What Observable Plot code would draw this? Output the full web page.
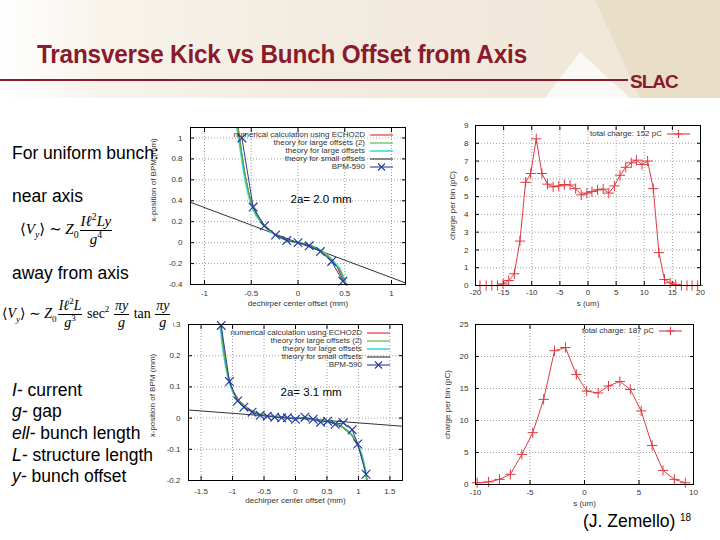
<!DOCTYPE html>
<html><head><meta charset="utf-8">
<script src="https://cdn.jsdelivr.net/npm/d3@7"></script>
<script src="https://cdn.jsdelivr.net/npm/@observablehq/plot@0.6"></script>
<style>
html,body{margin:0;padding:0;background:#fff;}
#slide{position:relative;width:720px;height:540px;overflow:hidden;font-family:"Liberation Sans",Arial,sans-serif;color:#000;}
.abs{position:absolute;white-space:nowrap;}
#banner{position:absolute;left:0;top:0;width:720px;height:98px;background:linear-gradient(90deg,#ffffff 0%,#f8f4ec 14%,#f2ebdf 45%,#efe6d6 100%);}
#dark{position:absolute;left:0;top:0;width:720px;height:98px;background:#e6dac2;clip-path:polygon(595px 0,720px 0,720px 98px,640px 98px);opacity:0.7;}
#light{position:absolute;left:0;top:0;width:720px;height:98px;background:#fbf9f5;clip-path:polygon(545px 98px,580px 52px,630px 98px);}
#title{left:37px;top:39px;font-weight:bold;font-size:26px;color:#8a1a2c;transform:scaleX(0.935);transform-origin:0 0;letter-spacing:-0.2px;}
#rule{left:0;top:79px;width:628px;height:2px;background:#8a1a2c;}
#slac{left:630px;top:71px;font-weight:900;font-size:19px;color:#8a1a2c;letter-spacing:-1px;}
.txt{font-size:17.5px;line-height:20px;}
.math{font-family:"Liberation Serif","DejaVu Serif",serif;line-height:1;}
.math i{font-style:italic;}
.frac{display:inline-flex;flex-direction:column;vertical-align:middle;text-align:center;margin:0 1px;}
.frac>span:first-child{border-bottom:1px solid #000;padding:0 1px 1px 1px;}
.frac>span:last-child{padding-top:1px;}
sub,sup{font-size:65%;line-height:0;}
.leg{position:absolute;font-size:8px;line-height:10px;color:#333;text-align:right;white-space:nowrap;}
.chart{position:absolute;}
</style></head>
<body><div id="slide">
<div id="banner"></div><div id="dark"></div><div id="light"></div>
<div class="abs" id="title">Transverse Kick vs Bunch Offset from Axis</div>
<div class="abs" id="rule"></div>
<div class="abs" id="slac">SLAC</div>
<div id="charts"></div>
<div class="abs txt" style="left:12px;top:143px;">For uniform bunch:</div>
<div class="abs txt" style="left:12px;top:186px;">near axis</div>
<div class="abs math" style="left:20px;top:214px;font-size:15px;">⟨<i>V</i><sub><i>y</i></sub>⟩ ∼ <i>Z</i><sub>0</sub><span class="frac"><span><i>Iℓ</i><sup>2</sup><i>Ly</i></span><span><i>g</i><sup>4</sup></span></span></div>
<div class="abs txt" style="left:12px;top:263px;">away from axis</div>
<div class="abs math" style="left:0px;top:297px;font-size:14px;background:#fff;padding:2px;">⟨<i>V</i><sub><i>y</i></sub>⟩ ∼ <i>Z</i><sub>0</sub><span class="frac"><span><i>Iℓ</i><sup>2</sup><i>L</i></span><span><i>g</i><sup>3</sup></span></span> sec<sup>2</sup> <span class="frac"><span><i>πy</i></span><span><i>g</i></span></span> tan <span class="frac"><span><i>πy</i></span><span><i>g</i></span></span></div>
<div class="abs txt" style="left:12px;top:380px;"><i>I-</i> current</div>
<div class="abs txt" style="left:12px;top:401px;"><i>g-</i> gap</div>
<div class="abs txt" style="left:12px;top:423px;"><i>ell-</i> bunch length</div>
<div class="abs txt" style="left:12px;top:445px;"><i>L-</i> structure length</div>
<div class="abs txt" style="left:12px;top:466px;"><i>y-</i> bunch offset</div>
<div class="abs txt" style="left:583px;top:511px;">(J. Zemello)</div>
<div class="abs" style="left:680px;top:512px;font-size:10px;">18</div>
</div>
<script>
// ---------- Chart A: 2a = 2.0 mm ----------
const aXTicks = [-1, -0.5, 0, 0.5, 1];
const aYTicks = [-0.4, -0.2, 0, 0.2, 0.4, 0.6, 0.8, 1];
const aBpmX = [-0.60, -0.48, -0.36, -0.24, -0.12, 0.00, 0.12, 0.24, 0.36, 0.48];
const aBpmY = [1.00, 0.34, 0.16, 0.073, 0.02, 0.00, -0.03, -0.085, -0.18, -0.37];
const aNumX = [-0.64, -0.60, -0.56, -0.52, -0.48, -0.42, -0.36, -0.24, -0.12, 0, 0.12, 0.24, 0.36, 0.42, 0.48, 0.51];
const aNumY = [1.10, 0.84, 0.62, 0.45, 0.35, 0.235, 0.165, 0.075, 0.022, 0, -0.022, -0.075, -0.165, -0.235, -0.35, -0.40];
const aLarge2X = [-0.645, -0.62, -0.60, -0.58, -0.56, -0.54, -0.52, -0.50, -0.47, -0.44, -0.40, -0.36, -0.30, -0.24, -0.18, -0.12, -0.06, 0, 0.06, 0.12, 0.18, 0.24, 0.30, 0.36, 0.40, 0.44, 0.47, 0.50, 0.515];
const aLarge2Y = [1.10, 0.96, 0.84, 0.72, 0.62, 0.53, 0.45, 0.385, 0.31, 0.26, 0.21, 0.165, 0.115, 0.075, 0.045, 0.022, 0.009, 0, -0.009, -0.022, -0.045, -0.075, -0.115, -0.165, -0.21, -0.25, -0.31, -0.38, -0.40];
const aLargeX = [-0.655, -0.63, -0.61, -0.59, -0.57, -0.55, -0.53, -0.51, -0.48, -0.45, -0.41, -0.37, -0.31, -0.25, -0.19, -0.12, -0.06, 0, 0.06, 0.12, 0.19, 0.25, 0.31, 0.37, 0.41, 0.45, 0.48, 0.51, 0.525];
const aLargeY = [1.10, 0.96, 0.84, 0.72, 0.62, 0.53, 0.45, 0.385, 0.31, 0.26, 0.21, 0.165, 0.115, 0.075, 0.045, 0.022, 0.009, 0, -0.009, -0.022, -0.045, -0.075, -0.115, -0.165, -0.21, -0.25, -0.31, -0.38, -0.40];
const aSmallX = [-1.15, 1.15];
const aSmallY = [0.385, -0.385];

// ---------- Chart B: 2a = 3.1 mm ----------
const bXTicks = [-1.5, -1, -0.5, 0, 0.5, 1, 1.5];
const bYTicks = [-0.2, -0.1, 0, 0.1, 0.2, 0.3];
const bBpmX = [-1.18, -1.05, -0.92, -0.82, -0.69, -0.56, -0.45, -0.33, -0.22, -0.13, 0.00, 0.15, 0.28, 0.40, 0.51, 0.63, 0.76, 0.90, 0.99, 1.12];
const bBpmY = [0.297, 0.117, 0.055, 0.035, 0.019, 0.009, 0.006, 0.003, 0.001, 0.001, -0.004, 0.003, -0.004, -0.013, -0.010, -0.020, -0.015, -0.037, -0.083, -0.180];
const bLarge2X = [-1.19, -1.16, -1.13, -1.10, -1.07, -1.04, -1.00, -0.95, -0.90, -0.82, -0.74, -0.66, -0.56, -0.46, -0.34, -0.20, 0, 0.20, 0.34, 0.46, 0.56, 0.66, 0.74, 0.82, 0.90, 0.96, 1.01, 1.05, 1.08, 1.11, 1.135];
const bLarge2Y = [0.30, 0.245, 0.20, 0.165, 0.135, 0.112, 0.09, 0.07, 0.056, 0.04, 0.028, 0.019, 0.012, 0.008, 0.005, 0.002, 0, -0.002, -0.005, -0.008, -0.012, -0.019, -0.028, -0.04, -0.056, -0.075, -0.097, -0.12, -0.145, -0.175, -0.20];
const bLargeX = [-1.20, -1.17, -1.14, -1.11, -1.08, -1.05, -1.01, -0.96, -0.91, -0.83, -0.75, -0.67, -0.57, -0.47, -0.35, -0.21, 0, 0.21, 0.35, 0.47, 0.57, 0.67, 0.75, 0.83, 0.91, 0.97, 1.02, 1.06, 1.09, 1.12, 1.145];
const bLargeY = bLarge2Y;
const bNumX = [-1.19, -1.13, -1.07, -1.00, -0.90, -0.74, -0.56, -0.34, 0, 0.34, 0.56, 0.74, 0.90, 1.01, 1.08, 1.135];
const bNumY = [0.30, 0.20, 0.135, 0.09, 0.056, 0.028, 0.012, 0.005, 0, -0.005, -0.012, -0.028, -0.056, -0.097, -0.145, -0.20];
const bSmallX = [-1.7, 1.7];
const bSmallY = [0.026, -0.026];

// ---------- Chart C: total charge 152 pC ----------
const cXTicks = [-20, -15, -10, -5, 0, 5, 10, 15, 20];
const cYTicks = [0, 1, 2, 3, 4, 5, 6, 7, 8, 9];
const cS = [-19.2, -18.1, -17.1, -16.1, -15.1, -14.1, -13.1, -12.1, -11.1, -10.2, -9.2, -8.2, -7.2, -6.2, -5.2, -4.2, -3.2, -2.2, -1.2, -0.2, 0.7, 1.7, 2.7, 3.7, 4.7, 5.7, 6.7, 7.7, 8.6, 9.6, 10.6, 11.6, 12.6, 13.6, 14.6, 15.6, 16.6, 17.6, 18.5, 19.5];
const cQ = [0, 0, 0, 0, 0.09, 0.28, 0.66, 2.5, 5.8, 6.3, 8.25, 6.3, 5.7, 5.55, 5.6, 5.68, 5.65, 5.45, 5.1, 5.2, 5.28, 5.38, 5.42, 5.2, 5.6, 6.2, 6.65, 6.9, 7.05, 6.8, 7.0, 5.45, 1.85, 0.34, 0.15, 0.05, 0, 0, 0, 0];

// ---------- Chart D: total charge 187 pC ----------
const dXTicks = [-10, -5, 0, 5, 10];
const dYTicks = [0, 5, 10, 15, 20, 25];
const dS = [-9.85, -8.8, -7.8, -6.8, -5.75, -4.75, -3.75, -2.75, -1.75, -0.75, 0.2, 1.25, 2.2, 3.25, 4.2, 5.2, 6.2, 7.2, 8.25, 9.25];
const dQ = [0.27, 0.4, 0.8, 1.6, 4.7, 8.1, 13.3, 20.9, 21.4, 17.2, 14.6, 14.3, 15.4, 16.1, 14.85, 11.5, 6.1, 2.2, 0.8, 0.27];

// ---------- labels ----------
const offsetLegend = ["numerical calculation using ECHO2D", "theory for large offsets (2)", "theory for large offsets", "theory for small offsets", "BPM-590"];
const offsetXLabel = "dechirper center offset (mm)";
const offsetYLabel = "x-position of BPM (mm)";
const chargeXLabel = "s (um)";
const chargeYLabel = "charge per bin (pC)";
const annA = "2a= 2.0 mm";
const annB = "2a= 3.1 mm";
const legC = "total charge: 152 pC";
const legD = "total charge: 187 pC";

const RED = "#e3262b", GREEN = "#4fb03a", CYAN = "#3fdcd8", DARK = "#333333", BLUE = "#2a3d9e", CRED = "#e03a40";
const zip = (xs, ys) => xs.map((x, i) => ({x, y: ys[i]}));
const fmt = d => String(Math.round(d * 100) / 100);

function frameAxes(xt, yt, yPad, xPad) {
  const g = {stroke: "#8a8a8a", strokeOpacity: 0.8, strokeDasharray: "1,2"};
  return [
    Plot.gridX({ticks: xt, ...g}),
    Plot.gridY({ticks: yt, ...g}),
    Plot.axisX({ticks: xt, anchor: "bottom", tickSize: 0, tickPadding: xPad, tickFormat: fmt, label: null, fontSize: 8}),
    Plot.axisY({ticks: yt, anchor: "left", tickSize: 0, tickPadding: yPad, tickFormat: fmt, label: null, fontSize: 8}),
    Plot.axisX({ticks: xt, anchor: "bottom", tickSize: -4, tickFormat: () => "", label: null, stroke: "#000"}),
    Plot.axisX({ticks: xt, anchor: "top", tickSize: -4, tickFormat: () => "", label: null, stroke: "#000"}),
    Plot.axisY({ticks: yt, anchor: "left", tickSize: -4, tickFormat: () => "", label: null, stroke: "#000"}),
    Plot.axisY({ticks: yt, anchor: "right", tickSize: -4, tickFormat: () => "", label: null, stroke: "#000"})
  ];
}
function titles(xl, yl, xdy, ydx, ydy) {
  return [
    Plot.text([xl], {text: d => d, frameAnchor: "bottom", dy: xdy, fontSize: 8, fill: "#333", textAnchor: "middle"}),
    Plot.text([yl], {text: d => d, frameAnchor: "left", rotate: -90, dx: ydx, dy: ydy, fontSize: 8, fill: "#333", textAnchor: "middle"})
  ];
}
const baseStyle = {background: "transparent", fontFamily: "Liberation Sans, Arial, sans-serif", fontSize: "8px", color: "#333", overflow: "visible"};
const holder = document.getElementById("charts");
function place(svg, left, top) {
  const d = document.createElement("div");
  d.className = "chart"; d.style.left = left + "px"; d.style.top = top + "px";
  d.appendChild(svg); holder.appendChild(d);
}

// Chart A
place(Plot.plot({
  width: 275, height: 195, marginLeft: 50, marginRight: 10, marginTop: 10, marginBottom: 28,
  style: baseStyle,
  x: {domain: [-1.15, 1.15]}, y: {domain: [-0.4, 1.1]},
  marks: [
    ...frameAxes(aXTicks, aYTicks, 8, 6),
    Plot.line(zip(aSmallX, aSmallY), {x: "x", y: "y", stroke: DARK, strokeWidth: 1, clip: true}),
    Plot.line(zip(aNumX, aNumY), {x: "x", y: "y", stroke: RED, strokeWidth: 1.2, clip: true}),
    Plot.line(zip(aLargeX, aLargeY), {x: "x", y: "y", stroke: CYAN, strokeWidth: 1.6, clip: true}),
    Plot.line(zip(aLarge2X, aLarge2Y), {x: "x", y: "y", stroke: GREEN, strokeWidth: 1.2, clip: true}),
    Plot.line(zip(aBpmX, aBpmY), {x: "x", y: "y", stroke: BLUE, strokeWidth: 1}),
    Plot.dot(zip(aBpmX, aBpmY), {x: "x", y: "y", symbol: "times", r: 4, stroke: BLUE, strokeWidth: 1.2}),
    Plot.text([annA], {text: d => d, frameAnchor: "top-left", dx: 100, dy: 67, fontSize: 11.5, fill: "#000", textAnchor: "start"}),
    Plot.frame({stroke: "#000", strokeWidth: 1}),
    ...titles(offsetXLabel, offsetYLabel, 21, -37, -26)
  ]
}), 140, 117);

// Chart B
place(Plot.plot({
  width: 272, height: 200, marginLeft: 48, marginRight: 10, marginTop: 10, marginBottom: 34,
  style: baseStyle,
  x: {domain: [-1.7, 1.7]}, y: {domain: [-0.2, 0.3]},
  marks: [
    ...frameAxes(bXTicks, bYTicks, 8, 8),
    Plot.line(zip(bSmallX, bSmallY), {x: "x", y: "y", stroke: DARK, strokeWidth: 1, clip: true}),
    Plot.line(zip(bNumX, bNumY), {x: "x", y: "y", stroke: RED, strokeWidth: 1.2, clip: true}),
    Plot.line(zip(bLargeX, bLargeY), {x: "x", y: "y", stroke: CYAN, strokeWidth: 1.6, clip: true}),
    Plot.line(zip(bLarge2X, bLarge2Y), {x: "x", y: "y", stroke: GREEN, strokeWidth: 1.2, clip: true}),
    Plot.line(zip(bBpmX, bBpmY), {x: "x", y: "y", stroke: BLUE, strokeWidth: 1}),
    Plot.dot(zip(bBpmX, bBpmY), {x: "x", y: "y", symbol: "times", r: 4, stroke: BLUE, strokeWidth: 1.2}),
    Plot.text([annB], {text: d => d, frameAnchor: "top-left", dx: 92, dy: 63, fontSize: 11.5, fill: "#000", textAnchor: "start"}),
    Plot.frame({stroke: "#000", strokeWidth: 1}),
    ...titles(offsetXLabel, offsetYLabel, 22, -36, -7)
  ]
}), 140, 314);

// Chart C
place(Plot.plot({
  width: 270, height: 200, marginLeft: 35, marginRight: 10, marginTop: 10, marginBottom: 30,
  style: baseStyle,
  x: {domain: [-20, 20]}, y: {domain: [0, 9]},
  marks: [
    ...frameAxes(cXTicks, cYTicks, 7, 4),
    Plot.line(zip(cS, cQ), {x: "x", y: "y", stroke: CRED, strokeWidth: 1}),
    Plot.dot(zip(cS, cQ), {x: "x", y: "y", symbol: "plus", r: 3.4, stroke: CRED, strokeWidth: 1}),
    Plot.frame({stroke: "#000", strokeWidth: 1}),
    ...titles(chargeXLabel, chargeYLabel, 20, -23, 0)
  ]
}), 440, 115);

// Chart D
place(Plot.plot({
  width: 263, height: 200, marginLeft: 35, marginRight: 10, marginTop: 10, marginBottom: 30,
  style: baseStyle,
  x: {domain: [-10, 10]}, y: {domain: [0, 25]},
  marks: [
    ...frameAxes(dXTicks, dYTicks, 7, 5),
    Plot.line(zip(dS, dQ), {x: "x", y: "y", stroke: CRED, strokeWidth: 1}),
    Plot.dot(zip(dS, dQ), {x: "x", y: "y", symbol: "plus", r: 3.4, stroke: CRED, strokeWidth: 1}),
    Plot.frame({stroke: "#000", strokeWidth: 1}),
    ...titles(chargeXLabel, chargeYLabel, 21, -28, 0)
  ]
}), 440, 314);

// ---------- legends (HTML keys) ----------
const slide = document.getElementById("slide");
function legendRow(label, right, cy, color, marker, width) {
  const t = document.createElement("div");
  t.className = "leg"; t.textContent = label;
  t.style.left = (right - 250) + "px"; t.style.width = "250px"; t.style.top = (cy - 5) + "px";
  slide.appendChild(t);
  const ns = "http://www.w3.org/2000/svg";
  const s = document.createElementNS(ns, "svg");
  s.setAttribute("width", width); s.setAttribute("height", 10);
  s.style.position = "absolute"; s.style.left = (right + 5) + "px"; s.style.top = (cy - 5) + "px";
  const l = document.createElementNS(ns, "line");
  l.setAttribute("x1", 0); l.setAttribute("x2", width); l.setAttribute("y1", 5); l.setAttribute("y2", 5);
  l.setAttribute("stroke", color); l.setAttribute("stroke-width", color === CYAN ? 1.6 : 1.1);
  s.appendChild(l);
  if (marker) {
    const m = document.createElementNS(ns, "path");
    const c = width / 2;
    m.setAttribute("d", marker === "times" ? `M${c-3.5},1.5L${c+3.5},8.5M${c-3.5},8.5L${c+3.5},1.5` : `M${c-4},5L${c+4},5M${c},1L${c},9`);
    m.setAttribute("stroke", color); m.setAttribute("stroke-width", 1.1);
    s.appendChild(m);
  }
  slide.appendChild(s);
}
const offColors = [RED, GREEN, CYAN, DARK, BLUE];
const offMarkers = [null, null, null, null, "times"];
const aLegY = [135, 143, 151, 159, 167];
const bLegY = [333, 341, 349, 357, 365];
offsetLegend.forEach((lab, i) => legendRow(lab, 365, aLegY[i], offColors[i], offMarkers[i], 23));
offsetLegend.forEach((lab, i) => legendRow(lab, 362, bLegY[i], offColors[i], offMarkers[i], 23));
legendRow(legC, 662, 134, CRED, "plus", 23);
legendRow(legD, 654, 331, CRED, "plus", 23);
</script>
</body></html>
